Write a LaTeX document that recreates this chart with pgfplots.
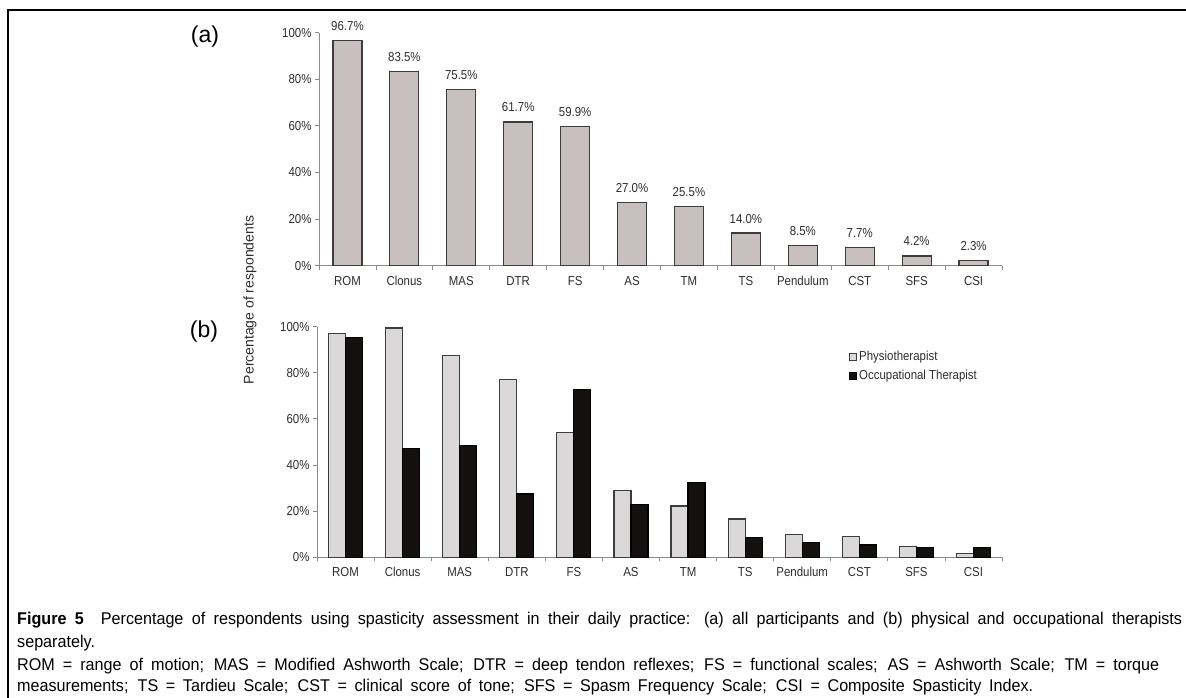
\documentclass[border=0pt]{standalone}
\usepackage{pgfplots}
\pgfplotsset{compat=1.18}
\usepackage{fontspec}
\setmainfont{Liberation Sans}[FakeStretch=0.88]
\newfontfamily\rotfont{Liberation Sans}
\newfontfamily\capfont{Liberation Sans}[FakeStretch=0.95]
\definecolor{barA}{RGB}{200,192,190}
\definecolor{bord}{RGB}{60,60,60}
\definecolor{physio}{RGB}{218,216,216}
\definecolor{occ}{RGB}{20,16,16}
\definecolor{axgrey}{RGB}{140,140,140}
\definecolor{txt}{RGB}{45,45,45}
\pgfplotsset{
  common/.style={
    scale only axis, anchor=south west,
    xmin=-0.5, xmax=11.5, ymin=0, ymax=100,
    axis lines*=left,
    axis line style={draw=axgrey, line width=1pt},
    every tick/.style={draw=axgrey, line width=0.8pt},
    tick align=outside, major tick length=4pt,
    ytick={0,20,40,60,80,100},
    yticklabels={0\%,20\%,40\%,60\%,80\%,100\%},
    xtick={-0.5,0.5,...,11.5},
    xticklabels={ROM,Clonus,MAS,DTR,FS,AS,TM,TS,Pendulum,CST,SFS,CSI},
    x tick label as interval,
    tick label style={font=\fontsize{13}{15}\selectfont, text=txt},
    x tick label style={text height=9.5pt, text depth=2.5pt, yshift=-2.5pt},
    clip=false,
  }
}
\begin{document}
\begin{tikzpicture}[x=1pt,y=1pt]
\useasboundingbox (0,0) rectangle (1186,698);
\draw[line width=1.7pt] (8,-20) -- (8,688) -- (1200,688);
% panel (a)
\begin{axis}[common, at={(319pt,432.3pt)}, width=683pt, height=233pt,
  ybar, bar width=29pt,
  nodes near coords, point meta=explicit symbolic,
  every node near coord/.append style={font=\fontsize{13}{15}\selectfont, text=txt, anchor=base, yshift=10pt, inner sep=0pt},
]
\addplot[fill=barA, draw=bord, line width=1.2pt] coordinates {
 (0,96.7)[96.7\%] (1,83.5)[83.5\%] (2,75.5)[75.5\%] (3,61.7)[61.7\%]
 (4,59.9)[59.9\%] (5,27.0)[27.0\%] (6,25.5)[25.5\%] (7,14.0)[14.0\%]
 (8,8.5)[8.5\%] (9,7.7)[7.7\%] (10,4.2)[4.2\%] (11,2.3)[2.3\%]};
\end{axis}
% panel (b)
\begin{axis}[common, at={(317pt,140.7pt)}, width=685pt, height=230.7pt,
  ybar=0pt, bar width=17pt,
  legend style={at={(0.777,0.903)}, anchor=north west, draw=none, fill=none,
    font=\fontsize{13}{15}\selectfont, text=txt, inner sep=0pt, row sep=4pt,
    /tikz/every even column/.append style={column sep=2pt}},
  legend cell align=left,
  legend image code/.code={\draw[#1, line width=0.8pt] (0pt,-3.5pt) rectangle (7pt,3.5pt);},
]
\addplot[fill=physio, draw=bord, line width=1.2pt] coordinates {
 (0,97.1) (1,99.4) (2,87.4) (3,76.9) (4,54.0) (5,29.0)
 (6,22.2) (7,16.6) (8,9.8) (9,9.1) (10,4.8) (11,1.7)};
\addplot[fill=occ, draw=black, line width=1.2pt] coordinates {
 (0,95.4) (1,47.3) (2,48.4) (3,27.4) (4,72.8) (5,22.8)
 (6,32.5) (7,8.7) (8,6.3) (9,5.3) (10,4.2) (11,4.2)};
\legend{Physiotherapist, Occupational Therapist}
\end{axis}
% shared y label and panel letters
\node[rotate=90, font=\rotfont\fontsize{14}{16}\selectfont, text=txt] at (250,398) {Percentage of respondents};
\node[font=\rotfont\fontsize{23}{26}\selectfont] at (205,661) {(a)};
\node[font=\rotfont\fontsize{23}{26}\selectfont] at (204,366) {(b)};
% caption
\begin{scope}[every node/.style={anchor=base west, inner sep=0pt, font=\capfont\fontsize{17}{20}\selectfont}]
\node at (17,73) {\hbox to 1165pt{\textbf{Figure 5}\quad Percentage of respondents using spasticity assessment in their daily practice: (a) all participants and (b) physical and occupational therapists}};
\node at (17,50) {separately.};
\node at (17,27) {\hbox to 1142pt{ROM = range of motion; MAS = Modified Ashworth Scale; DTR = deep tendon reflexes; FS = functional scales; AS = Ashworth Scale; TM = torque}};
\node at (17,6) {\hbox to 1016pt{measurements; TS = Tardieu Scale; CST = clinical score of tone; SFS = Spasm Frequency Scale; CSI = Composite Spasticity Index.}};
\end{scope}
\end{tikzpicture}
\end{document}
